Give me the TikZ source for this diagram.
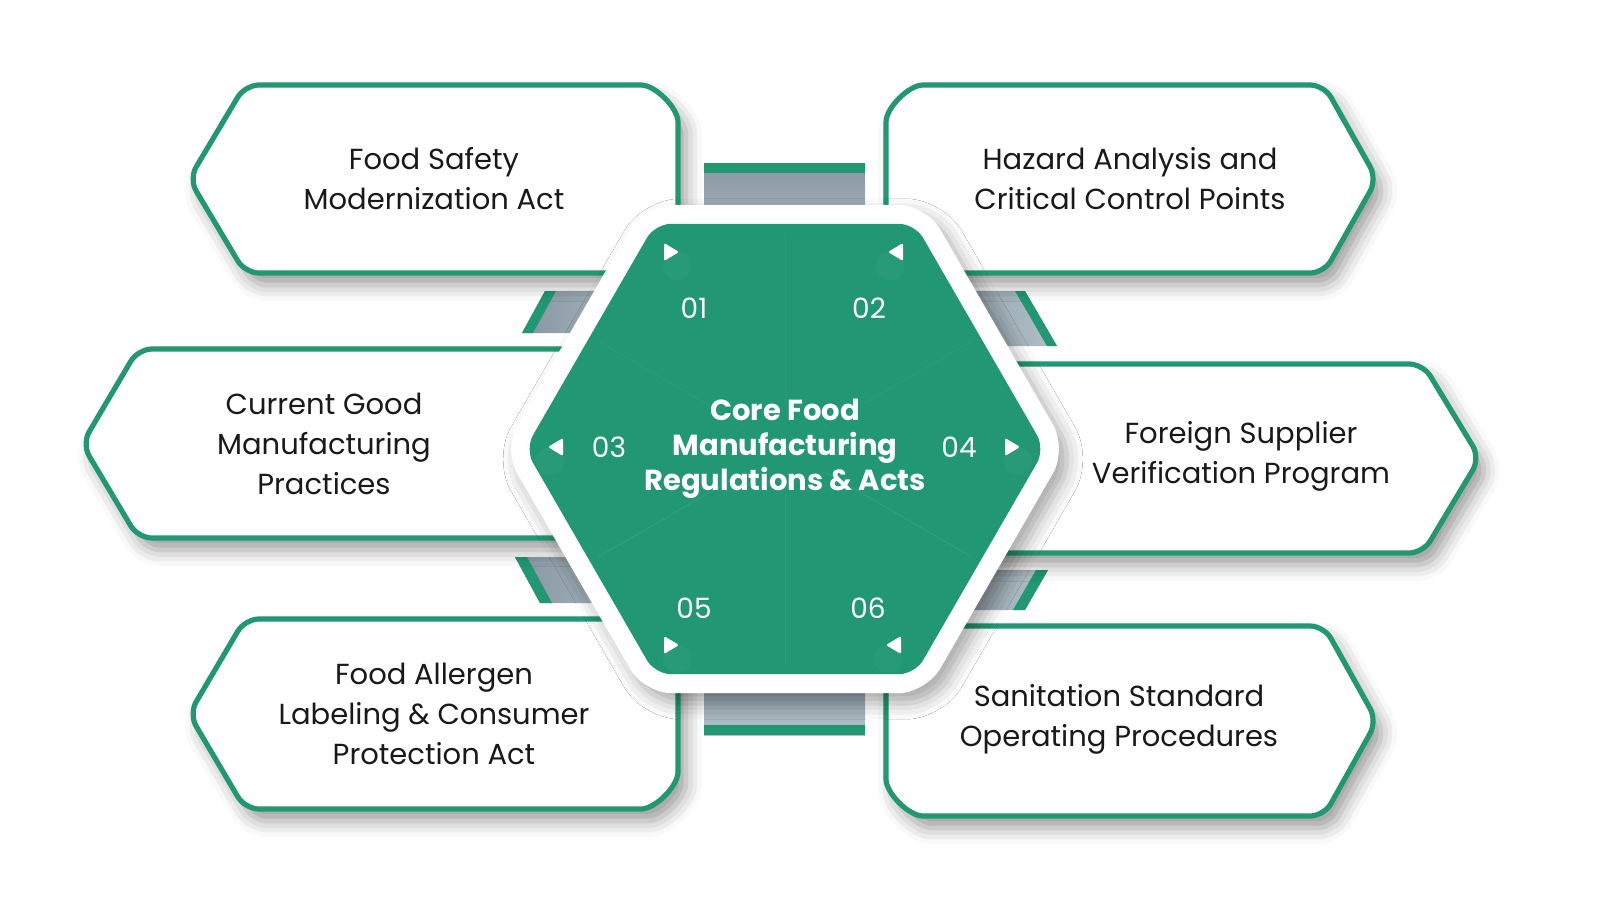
\documentclass[tikz,border=0pt]{standalone}
\usepackage{fontspec}
\setmainfont{Poppins}
\usepackage{xcolor}
\usetikzlibrary{shadows.blur}
\definecolor{brand}{RGB}{33,152,113}
\definecolor{bardark}{RGB}{134,149,159}
\definecolor{barlight}{RGB}{178,193,201}
\def\addtri#1#2{\fill[white,rounded corners=1pt,shift={(#1)},xscale=#2] (-7,-9) -- (8,0) -- (-7,9) -- cycle;
	\fill[white,opacity=.035] ($(#1)+(#2*6,14)$) circle (14);}
\usetikzlibrary{calc}

\begin{document}
\begin{tikzpicture}[x=0.5pt,y=-0.5pt,
					itembox/.style={draw=brand,fill=white,line width=2.6pt,rounded corners=7pt,
						blur shadow={shadow xshift=4pt,shadow yshift=-6pt,shadow blur radius=8pt,shadow opacity=40}},
					itemtext/.style={align=center,text=black!90,font=\fontsize{14.5}{20}\selectfont},
					numtext/.style={text=white,font=\fontsize{14}{16}\selectfont},
					coretext/.style={align=center,text=white,font=\bfseries\fontsize{14.5}{17.5}\selectfont}]
				\useasboundingbox (0,0) rectangle (1600,900);
				% bars behind
				\shade[top color=bardark,bottom color=barlight] (704,163) rectangle (865,250);
				\fill[brand] (704,163) rectangle (865,173);
				\shade[top color=bardark,bottom color=barlight] (704,650) rectangle (865,735);
				\fill[brand] (704,725) rectangle (865,735);
				\shade[left color=bardark,right color=barlight] (545,291) -- (660,291) -- (637,333) -- (522,333) -- cycle;
				\fill[brand] (545,291) -- (556,291) -- (533,333) -- (522,333) -- cycle;
				\shade[left color=bardark,right color=barlight] (515,557) -- (630,557) -- (655,603) -- (540,603) -- cycle;
				\fill[brand] (515,557) -- (527,557) -- (552,603) -- (540,603) -- cycle;
				\shade[left color=bardark,right color=barlight] (925,291) -- (1025,291) -- (1057,346) -- (957,346) -- cycle;
				\fill[brand] (1015,291) -- (1025,291) -- (1057,346) -- (1047,346) -- cycle;
				\shade[left color=bardark,right color=barlight] (940,570) -- (1048,570) -- (1025,610) -- (917,610) -- cycle;
				\fill[brand] (1036,570) -- (1048,570) -- (1025,610) -- (1013,610) -- cycle;
				% boxes
				\draw[itembox] (189,179) -- (245,85) -- (627,85) arc[start angle=-90,end angle=0,radius=51] -- (678,273) -- (245,273) -- cycle;
				\draw[itembox] (886,273) -- (886,136) arc[start angle=180,end angle=270,radius=51] -- (1324,85) -- (1377,179) -- (1324,273) -- cycle;
				\draw[itembox] (82,444) -- (138,349) -- (720,349) -- (720,538) -- (138,538) -- cycle;
				\draw[itembox] (850,364) -- (1423,364) -- (1480,458) -- (1423,553) -- (850,553) -- cycle;
				\draw[itembox] (189,714) -- (245,619) -- (678,619) -- (678,758) arc[start angle=0,end angle=90,radius=51] -- (245,809) -- cycle;
				\draw[itembox] (886,626) -- (1324,626) -- (1377,721) -- (1324,816) -- (937,816) arc[start angle=90,end angle=180,radius=51] -- cycle;
				\node[itemtext] (fsma) at (434,179) {Food Safety\\Modernization Act};
				\node[itemtext] (haccp) at (1130,179) {Hazard Analysis and\\Critical Control Points};
				\node[itemtext] (cgmp) at (324,444) {Current Good\\Manufacturing\\Practices};
				\node[itemtext] (fsvp) at (1241,456) {Foreign Supplier\\Verification Program};
				\node[itemtext] (falcpa) at (434,714) {Food Allergen\\Labeling \& Consumer\\Protection Act};
				\node[itemtext] (ssop) at (1119,719) {Sanitation Standard\\Operating Procedures};
				% hexagon
				\fill[white,rounded corners=14pt,shift={(785,449)},
					blur shadow={shadow xshift=4pt,shadow yshift=-5pt,shadow blur radius=8pt,shadow opacity=35}]
					(0:282) -- (60:282) -- (120:282) -- (180:282) -- (240:282) -- (300:282) -- cycle;
				\fill[brand,rounded corners=8pt,shift={(785,449)}]
					(0:260) -- (60:260) -- (120:260) -- (180:260) -- (240:260) -- (300:260) -- cycle;
				\foreach \a in {30,90,150}
					\draw[white,opacity=.07,line width=0.5pt,shift={(785,449)}] (\a:45) -- (\a:215);
				\foreach \a in {210,270,330}
					\draw[white,opacity=.04,line width=0.5pt,shift={(785,449)}] (\a:45) -- (\a:215);
				\addtri{671,252}{1}
				\addtri{896,252}{-1}
				\addtri{556,447}{-1}
				\addtri{1012,447}{1}
				\addtri{671,645}{1}
				\addtri{894,645}{-1}
				\node[numtext] (n01) at (694,308) {01};
				\node[numtext] (n02) at (869,308) {02};
				\node[numtext] (n03) at (609,447) {03};
				\node[numtext] (n04) at (959,447) {04};
				\node[numtext] (n05) at (694,608) {05};
				\node[numtext] (n06) at (868,608) {06};
				\node[coretext] (core) at (785,449) {Core Food\\Manufacturing\\Regulations \& Acts};
			\end{tikzpicture}
\end{document}
